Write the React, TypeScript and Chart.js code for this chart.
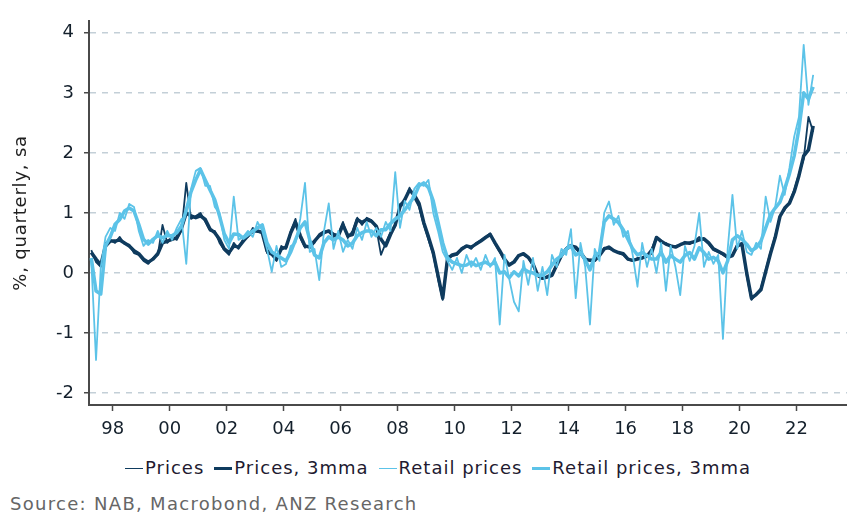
import React, { useEffect, useRef } from "react";
import { Chart, registerables } from "chart.js";

Chart.register(...registerables);

// Monthly survey series sampled every two months, starting Apr 1997
const START_YEAR = 1997.25;
const STEP_YEARS = 1 / 6;

const pricesRaw = [
  0.38, 0.18, 0.1, 0.5, 0.55,
  0.5, 0.6, 0.48, 0.47, 0.33, 0.3,
  0.2, 0.15, 0.25, 0.3, 0.8, 0.5,
  0.6, 0.55, 0.7, 1.5, 0.9, 0.95,
  1.0, 0.85, 0.7, 0.7, 0.5, 0.38,
  0.3, 0.5, 0.4, 0.57, 0.6, 0.75,
  0.68, 0.7, 0.33, 0.3, 0.2, 0.45,
  0.4, 0.7, 0.9, 0.58, 0.42, 0.45,
  0.5, 0.65, 0.7, 0.68, 0.6, 0.65,
  0.85, 0.58, 0.7, 0.92, 0.8, 0.92,
  0.88, 0.75, 0.3, 0.5, 0.68, 0.78,
  1.15, 1.2, 1.42, 1.25, 1.1, 0.8,
  0.55, 0.3, -0.1, -0.45, 0.28, 0.28,
  0.3, 0.42, 0.45, 0.4, 0.5, 0.55,
  0.6, 0.66, 0.48, 0.35, 0.2, 0.15,
  0.2, 0.3, 0.3, 0.25, 0.12, -0.05,
  -0.1, -0.05, -0.02, 0.15, 0.3, 0.42,
  0.47, 0.4, 0.32, 0.2, 0.22, 0.2,
  0.3, 0.42, 0.4, 0.38, 0.33, 0.3,
  0.22, 0.2, 0.25, 0.24, 0.3, 0.4,
  0.6, 0.5, 0.5, 0.43, 0.45, 0.46,
  0.52, 0.48, 0.53, 0.6, 0.55, 0.48,
  0.38, 0.35, 0.3, 0.25, 0.3, 0.47,
  0.5, -0.05, -0.45, -0.35, -0.25, 0.05,
  0.35, 0.62, 0.95, 1.05, 1.18, 1.38,
  1.65, 1.9, 2.6, 2.35,
];

const pricesMA = [
  0.34, 0.23, 0.13, 0.45, 0.53,
  0.53, 0.55, 0.5, 0.45, 0.37, 0.32,
  0.23, 0.18, 0.23, 0.32, 0.5, 0.53,
  0.56, 0.59, 0.75, 1.0, 0.95, 0.92,
  0.95, 0.89, 0.73, 0.67, 0.56, 0.4,
  0.34, 0.45, 0.43, 0.53, 0.62, 0.7,
  0.7, 0.67, 0.37, 0.32, 0.23, 0.4,
  0.43, 0.67, 0.84, 0.62, 0.45, 0.43,
  0.53, 0.62, 0.67, 0.7, 0.64, 0.62,
  0.8, 0.62, 0.64, 0.89, 0.84, 0.89,
  0.86, 0.78, 0.56, 0.45, 0.64, 0.8,
  1.1, 1.22, 1.38, 1.3, 1.16, 0.84,
  0.6, 0.34, -0.04, -0.42, 0.23, 0.3,
  0.32, 0.4, 0.45, 0.43, 0.48, 0.53,
  0.59, 0.64, 0.5, 0.37, 0.23, 0.13,
  0.18, 0.29, 0.32, 0.26, 0.15, -0.04,
  -0.09, -0.07, -0.04, 0.13, 0.29, 0.4,
  0.45, 0.43, 0.34, 0.23, 0.21, 0.21,
  0.29, 0.4, 0.43, 0.37, 0.34, 0.32,
  0.23, 0.21, 0.23, 0.25, 0.28, 0.34,
  0.59, 0.53, 0.48, 0.45, 0.43, 0.47,
  0.5, 0.5, 0.52, 0.55, 0.57, 0.5,
  0.4, 0.36, 0.32, 0.26, 0.29, 0.45,
  0.48, 0.0, -0.42, -0.36, -0.28, 0.02,
  0.32, 0.59, 0.94, 1.08, 1.16, 1.35,
  1.62, 1.95, 2.05, 2.45,
];

const retailRaw = [
  0.2, -1.45, 0.1, 0.6, 0.75,
  0.7, 1.0, 0.9, 1.15, 1.1, 0.7,
  0.45, 0.55, 0.5, 0.7, 0.5, 0.7,
  0.55, 0.75, 0.9, 0.15, 1.4, 1.7,
  1.75, 1.45, 1.45, 1.1, 1.0, 0.55,
  0.4, 1.27, 0.55, 0.6, 0.7, 0.6,
  0.85, 0.7, 0.4, 0.02, 0.45, 0.1,
  0.15, 0.45, 0.5, 0.9, 1.5, 0.35,
  0.4, -0.12, 0.7, 1.16, 0.4, 0.7,
  0.35, 0.55, 0.4, 0.75, 0.55, 0.85,
  0.6, 0.75, 0.6, 0.85, 0.7, 1.68,
  0.75, 1.2, 1.05, 1.4, 1.5, 1.45,
  1.55, 1.0, 0.7, 0.35, 0.2, 0.05,
  0.25, 0.0, 0.3, 0.1, 0.25, 0.05,
  0.3, 0.1, 0.25, -0.86, 0.3, -0.1,
  -0.48, -0.64, 0.2, -0.2, 0.25, -0.3,
  0.1, -0.37, 0.3, 0.1, 0.4, 0.3,
  0.73, -0.42, 0.5, 0.1, -0.86, 0.4,
  0.2, 1.0, 1.19, 0.8, 0.95, 0.6,
  0.7, 0.3, -0.23, 0.5, 0.1, 0.4,
  0.0, 0.5, -0.3, 0.45, 0.1, -0.37,
  0.45, 0.2, 0.45, 1.0, 0.1, 0.35,
  0.15, 0.3, -1.1, 0.4, 1.3, 0.4,
  0.7, 0.35, 0.3, 0.5, 0.4, 1.27,
  0.85, 1.1, 1.62, 1.3, 1.75, 2.27,
  2.6, 3.8, 2.8, 3.3,
];

const retailMA = [
  0.25, -0.3, -0.35, 0.45, 0.6,
  0.81, 0.89, 1.03, 1.08, 1.03, 0.81,
  0.56, 0.48, 0.56, 0.62, 0.59, 0.62,
  0.62, 0.67, 0.78, 1.05, 1.35, 1.55,
  1.72, 1.55, 1.38, 1.22, 0.95, 0.65,
  0.5, 0.65, 0.64, 0.58, 0.64, 0.7,
  0.75, 0.8, 0.5, 0.35, 0.3, 0.25,
  0.2, 0.35, 0.55, 0.75, 0.85, 0.55,
  0.3, 0.25, 0.5, 0.6, 0.55, 0.6,
  0.55, 0.45, 0.5, 0.62, 0.67, 0.7,
  0.7, 0.62, 0.72, 0.72, 0.82, 0.9,
  0.95, 1.05, 1.16, 1.27, 1.45, 1.5,
  1.42, 1.2, 0.85, 0.5, 0.25, 0.18,
  0.15, 0.12, 0.13, 0.18, 0.12, 0.15,
  0.18, 0.13, 0.18, 0.0, 0.02, -0.08,
  0.02, -0.05, 0.07, 0.02, 0.0, -0.04,
  -0.04, 0.02, 0.13, 0.23, 0.29, 0.4,
  0.45, 0.3, 0.34, 0.22, 0.05, 0.28,
  0.34, 0.85, 0.95, 0.9, 0.84, 0.72,
  0.56, 0.4, 0.3, 0.34, 0.29, 0.23,
  0.23, 0.34, 0.18, 0.29, 0.23, 0.18,
  0.29, 0.34, 0.23, 0.42, 0.34, 0.23,
  0.26, 0.2, 0.0, 0.2, 0.55, 0.62,
  0.56, 0.48, 0.37, 0.42, 0.53, 0.75,
  0.97, 1.08, 1.18, 1.4, 1.65, 1.95,
  2.4, 3.0, 2.9, 3.1,
];

const xTickYears = [1998, 2000, 2002, 2004, 2006, 2008, 2010, 2012, 2014, 2016, 2018, 2020, 2022];
const yTickValues = [-2, -1, 0, 1, 2, 3, 4];
const seriesNames = ["Prices", "Prices, 3mma", "Retail prices", "Retail prices, 3mma"];
const yAxisTitle = "%, quarterly, sa";
const sourceText = "Source: NAB, Macrobond, ANZ Research";

const DARK = "#0f3b5e";
const LIGHT = "#5cc3e8";
const FONT = "DejaVu Sans";

const legendStyles = [
  { color: DARK, width: 1.8 },
  { color: DARK, width: 3.5 },
  { color: LIGHT, width: 1.8 },
  { color: LIGHT, width: 3.5 },
];

const toPoints = (values: number[]) =>
  values.map((v, i) => ({ x: START_YEAR + i * STEP_YEARS, y: v }));

const yTitlePlugin = {
  id: "yTitlePlugin",
  afterDraw(chart: any) {
    const { ctx, chartArea } = chart;
    ctx.save();
    ctx.translate(21, (chartArea.top + chartArea.bottom) / 2);
    ctx.rotate(-Math.PI / 2);
    ctx.font = `18px "${FONT}"`;
    try {
      (ctx as any).letterSpacing = "0.8px";
    } catch (e) {}
    ctx.fillStyle = "#1f1f1f";
    ctx.textAlign = "center";
    ctx.textBaseline = "middle";
    ctx.fillText(yAxisTitle, 0, 0);
    ctx.restore();
  },
};

export default function App() {
  const canvasRef = useRef<HTMLCanvasElement | null>(null);

  useEffect(() => {
    if (!canvasRef.current) return;
    const chart = new Chart(canvasRef.current, {
      type: "line",
      data: {
        datasets: [
          { label: seriesNames[0], data: toPoints(pricesRaw), borderColor: DARK, borderWidth: 1.8, order: 4 },
          { label: seriesNames[1], data: toPoints(pricesMA), borderColor: DARK, borderWidth: 3.5, order: 3 },
          { label: seriesNames[2], data: toPoints(retailRaw), borderColor: LIGHT, borderWidth: 1.8, order: 2 },
          { label: seriesNames[3], data: toPoints(retailMA), borderColor: LIGHT, borderWidth: 3.5, order: 1 },
        ],
      },
      options: {
        responsive: false,
        animation: false,
        devicePixelRatio: 1,
        layout: { padding: { top: 15, right: 0, bottom: 0, left: 0 } },
        plugins: { legend: { display: false }, tooltip: { enabled: false } },
        elements: {
          point: { radius: 0 },
          line: { tension: 0, borderJoinStyle: "round", fill: false },
        },
        scales: {
          x: {
            type: "linear",
            min: 1997.17,
            max: 2023.77,
            afterBuildTicks: (s: any) => {
              s.ticks = xTickYears.map((v) => ({ value: v }));
            },
            afterFit: (s: any) => {
              s.height = 40;
            },
            grid: {
              drawOnChartArea: false,
              drawTicks: true,
              tickLength: 6,
              tickColor: "#4a4a4a",
              tickWidth: 1.5,
            },
            border: { display: true, color: "#4a4a4a", width: 2 },
            ticks: {
              padding: 8,
              color: "#14202c",
              font: { family: FONT, size: 18 },
              maxRotation: 0,
              autoSkip: false,
              callback: (v: any) => String(Math.round(Number(v)) % 100).padStart(2, "0"),
            },
          },
          y: {
            type: "linear",
            min: -2.2,
            max: 4.2,
            afterBuildTicks: (s: any) => {
              s.ticks = yTickValues.map((v) => ({ value: v }));
            },
            afterFit: (s: any) => {
              s.width = 89;
            },
            grid: {
              color: "#c3cfd7",
              lineWidth: 1.5,
              drawTicks: true,
              tickLength: 5,
              tickColor: "#4a4a4a",
              tickWidth: 1.5,
              tickBorderDash: [],
            },
            border: { display: true, color: "#4a4a4a", width: 2, dash: [6, 6] },
            ticks: {
              padding: 10,
              color: "#14202c",
              font: { family: FONT, size: 18 },
              callback: (v: any) => String(v),
            },
          },
        },
      } as any,
      plugins: [yTitlePlugin],
    });
    return () => chart.destroy();
  }, []);

  return (
    <div
      style={{
        position: "absolute",
        left: 0,
        top: 0,
        width: 847,
        height: 513,
        background: "#ffffff",
        overflow: "hidden",
        fontFamily: `"${FONT}", sans-serif`,
      }}
    >
      <canvas ref={canvasRef} width={847} height={445} style={{ position: "absolute", left: 0, top: 0 }} />
      <div
        style={{
          position: "absolute",
          left: 125,
          top: 457,
          display: "flex",
          alignItems: "center",
          gap: 10,
          fontSize: 18,
          letterSpacing: "1px",
          color: "#221a30",
          whiteSpace: "nowrap",
        }}
      >
        {seriesNames.map((name, i) => (
          <div key={name} style={{ display: "flex", alignItems: "center" }}>
            <span
              style={{
                display: "inline-block",
                width: 18,
                height: 0,
                borderTop: `${legendStyles[i].width}px solid ${legendStyles[i].color}`,
                marginRight: 2,
                marginTop: 2,
              }}
            />
            <span>{name}</span>
          </div>
        ))}
      </div>
      <div
        style={{
          position: "absolute",
          left: 10,
          top: 493,
          fontSize: 18,
          letterSpacing: "1.3px",
          color: "#666666",
          whiteSpace: "nowrap",
        }}
      >
        {sourceText}
      </div>
    </div>
  );
}
